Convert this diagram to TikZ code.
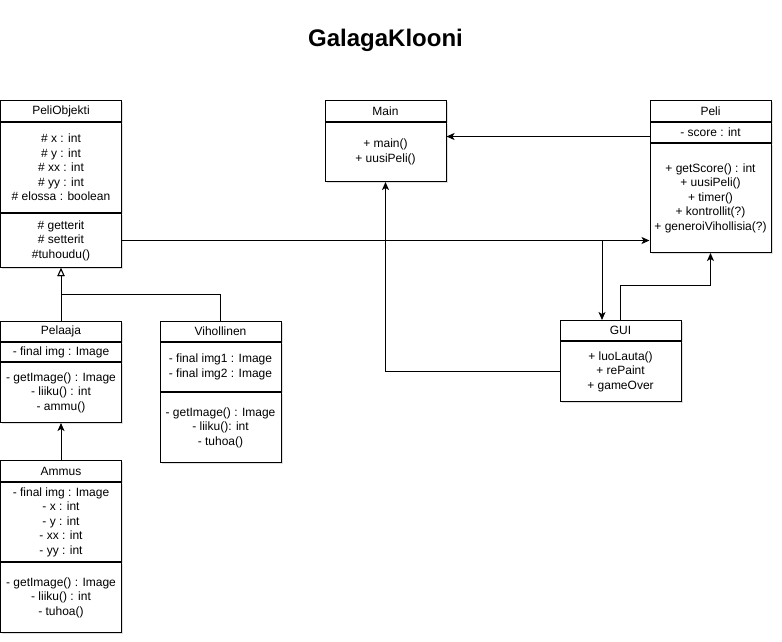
\documentclass[tikz,border=0pt]{standalone}
\usepackage{fontspec}
\setmainfont{Liberation Sans}
\usepackage{tikz}
\usetikzlibrary{arrows.meta,shadows,positioning}

\begin{document}
\begin{tikzpicture}[x=1pt, y=-1pt, line width=1pt,
    every node/.style={font=\fontsize{12}{14.5}\selectfont},
    hd/.style={draw, fill=white, anchor=north, inner sep=0pt, minimum width=121pt, minimum height=21pt,
      drop shadow={shadow xshift=1.5pt, shadow yshift=-1.5pt, opacity=0.25}},
    cmp/.style={hd, align=center},
    arr/.style={-{Stealth[length=8pt,width=7pt,inset=2pt]}},
    inh/.style={-{Triangle[open,length=8pt,width=7pt,fill=white]}}
  ]
  \useasboundingbox (0,0) rectangle (782,642);
  \node[font=\bfseries\fontsize{24}{28}\selectfont] (title) at (385.5,40) {GalagaKlooni};

  \node[hd] (po-h) at (61,100) {PeliObjekti};
  \node[cmp, minimum height=90pt] (po-a) at (po-h.south) {\# x : int\\ \# y : int\\ \# xx : int\\ \# yy : int\\ \# elossa : boolean};
  \node[cmp, minimum height=54pt] (po-m) at (po-a.south) {\# getterit\\ \# setterit\\ \#tuhoudu()};

  \node[hd] (main-h) at (385.5,100) {Main};
  \node[cmp, minimum height=59pt] (main-m) at (main-h.south) {+ main()\\ + uusiPeli()};

  \node[hd] (peli-h) at (710.5,100) {Peli};
  \node[cmp, minimum height=20pt] (peli-a) at (peli-h.south) {- score : int};
  \node[cmp, minimum height=109pt] (peli-m) at (peli-a.south) {+ getScore() : int\\ + uusiPeli()\\ + timer()\\ + kontrollit(?)\\ + generoiVihollisia(?)};

  \node[hd, minimum height=20pt] (gui-h) at (620.5,320) {GUI};
  \node[cmp, minimum height=60pt] (gui-m) at (gui-h.south) {+ luoLauta()\\ + rePaint\\ + gameOver};

  \node[hd, minimum height=20pt] (pel-h) at (61,321) {Pelaaja};
  \node[cmp, minimum height=19pt] (pel-a) at (pel-h.south) {- final img : Image};
  \node[cmp, minimum height=60pt] (pel-m) at (pel-a.south) {- getImage() : Image\\ - liiku() : int\\ - ammu()};

  \node[hd, minimum height=20pt] (vih-h) at (220.5,321) {Vihollinen};
  \node[cmp, minimum height=49pt] (vih-a) at (vih-h.south) {- final img1 : Image\\ - final img2 : Image};
  \node[cmp, minimum height=70pt] (vih-m) at (vih-a.south) {- getImage() : Image\\ - liiku(): int\\ - tuhoa()};

  \node[hd] (amm-h) at (61,460) {Ammus};
  \node[cmp, minimum height=79pt] (amm-a) at (amm-h.south) {- final img : Image\\ - x : int\\ - y : int\\ - xx : int\\ - yy : int};
  \node[cmp, minimum height=70pt] (amm-m) at (amm-a.south) {- getImage() : Image\\ - liiku() : int\\ - tuhoa()};

  \draw[arr] (po-m.east) -- (po-m.east -| peli-m.west);
  \draw[arr] (po-m.east) -| ([xshift=-18.5pt]gui-h.north);
  \draw[arr] ([yshift=-4pt]peli-a.west) -- ([yshift=-4pt]peli-a.west -| main-m.east);
  \draw[arr] (gui-m.west) -| (main-m.south);
  \draw[arr] (gui-h.north) -- ++(0,-35) -| (peli-m.south);
  \draw[inh] (pel-h.north) -- (po-m.south);
  \draw[inh] (vih-h.north) |- ([yshift=-26pt]po-m.south) -- (po-m.south);
  \draw[arr] (amm-h.north) -- (pel-m.south);
\end{tikzpicture}
\end{document}
